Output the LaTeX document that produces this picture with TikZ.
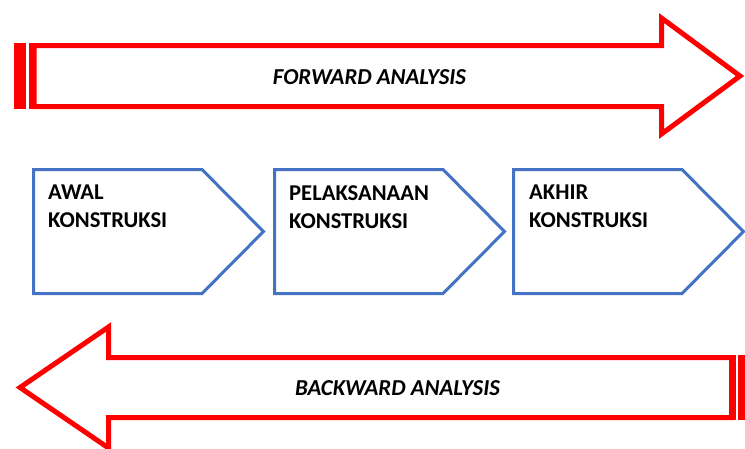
\documentclass[tikz,border=0pt]{standalone}
\usepackage{fontspec}
\setmainfont{Carlito}
\definecolor{arrowred}{HTML}{FF0000}
\definecolor{boxblue}{HTML}{4472C4}
\begin{document}
\begin{tikzpicture}[x=1pt,y=-1pt,
  bigarrow/.style={draw=arrowred, line width=5pt, line join=miter, fill=white},
  stripe/.style={fill=arrowred, draw=none},
  stepbox/.style={draw=boxblue, line width=3pt, line join=miter, fill=white},
  boxtext/.style={anchor=north west, inner sep=0pt, align=left,
    font=\fontsize{22.6}{28}\selectfont\bfseries},
  arrowtext/.style={inner sep=0pt, font=\fontsize{22.8}{26}\selectfont\bfseries\itshape}]
\useasboundingbox (0,0) rectangle (745,448);
\begin{scope}
\clip (0,0) rectangle (745,448);
% forward arrow
\fill[stripe] (14,43) rectangle (26,109);
\fill[stripe] (28.5,43) rectangle (33,109);
\draw[bigarrow] (34,45.5) -- (661.5,45.5) -- (661.5,18) -- (740,76)
  -- (661.5,134) -- (661.5,106.5) -- (34,106.5) -- cycle;
\node[arrowtext] (fwd) at (369.5,77) {FORWARD ANALYSIS};
% backward arrow
\fill[stripe] (733,355) rectangle (736,420);
\fill[stripe] (738,355) rectangle (750,420);
\draw[bigarrow] (731.5,357.5) -- (108.5,357.5) -- (108.5,327) -- (20,387.5)
  -- (108.5,448) -- (108.5,417.5) -- (731.5,417.5) -- cycle;
\node[arrowtext] (bwd) at (397.5,388) {BACKWARD ANALYSIS};
% steps
\draw[stepbox] (33.5,169.5) -- (202,169.5) -- (263.5,231.5) -- (202,293.5)
  -- (33.5,293.5) -- cycle;
\node[boxtext] (awal) at (48,185) {AWAL\\KONSTRUKSI};
\draw[stepbox] (274.5,169.5) -- (443,169.5) -- (504.5,231.5) -- (443,293.5)
  -- (274.5,293.5) -- cycle;
\node[boxtext] (pelaksanaan) at (289,185) {PELAKSANAAN\\KONSTRUKSI};
\draw[stepbox] (513.5,169.5) -- (682,169.5) -- (743.5,231.5) -- (682,293.5)
  -- (513.5,293.5) -- cycle;
\node[boxtext] (akhir) at (529,185) {AKHIR\\KONSTRUKSI};
\end{scope}
\end{tikzpicture}
\end{document}
